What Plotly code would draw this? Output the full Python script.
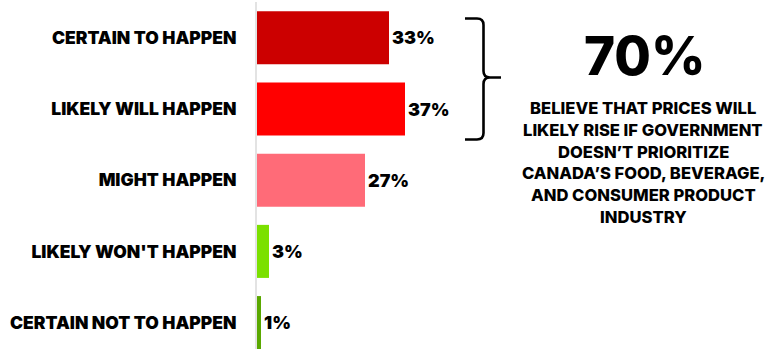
import plotly.graph_objects as go

# Survey responses: likelihood that prices rise
categories = [
    "CERTAIN TO HAPPEN",
    "LIKELY WILL HAPPEN",
    "MIGHT HAPPEN",
    "LIKELY WON'T HAPPEN",
    "CERTAIN NOT TO HAPPEN",
]
values = [33, 37, 27, 3, 1]
value_labels = ["33%", "37%", "27%", "3%", "1%"]
bar_colors = ["#CC0000", "#FF0000", "#FF6B78", "#7BE000", "#5AA800"]

headline = "70%"
headline_text = [
    "BELIEVE THAT PRICES WILL",
    "LIKELY RISE IF GOVERNMENT",
    "DOESN\u2019T PRIORITIZE",
    "CANADA\u2019S FOOD, BEVERAGE,",
    "AND CONSUMER PRODUCT",
    "INDUSTRY",
]

W, H = 775, 349
ML, MR, MT, MB = 257, 0, 2, 0
FONT = "Inter"


def px(x, y):
    """Convert page pixel position to paper coordinates."""
    return (x - ML) / (W - ML - MR), 1 - (y - MT) / (H - MT - MB)


fig = go.Figure(
    go.Bar(
        x=values,
        y=categories,
        orientation="h",
        marker=dict(color=bar_colors, line=dict(width=0)),
        text=value_labels,
        textposition="outside",
        textfont=dict(family=FONT, size=18, color="#000000", weight=900),
        cliponaxis=False,
        width=0.745,
    )
)

# Curly brace grouping the two "happen" answers
pts = [
    ("M", 465, 18.5), ("L", 477, 18.5), ("Q", 483.5, 18.5, 483.5, 25),
    ("L", 483.5, 71), ("Q", 483.5, 77.5, 490, 77.5), ("L", 501, 77.5),
    ("M", 490, 77.5), ("Q", 483.5, 77.5, 483.5, 84),
    ("L", 483.5, 133), ("Q", 483.5, 139.5, 477, 139.5), ("L", 465, 139.5),
]
path = ""
for p in pts:
    cmd, coords = p[0], p[1:]
    parts = []
    for i in range(0, len(coords), 2):
        a, b = px(coords[i], coords[i + 1])
        parts.append(f"{a:.5f},{b:.5f}")
    path += cmd + " " + " ".join(parts) + " "

fig.add_shape(
    type="path", path=path.strip(), xref="paper", yref="paper",
    line=dict(color="#000000", width=2.6),
)

hx, hy = px(644.5, 56)
fig.add_annotation(
    x=hx, y=hy, xref="paper", yref="paper", text=headline, showarrow=False,
    xanchor="center", yanchor="middle",
    font=dict(family=FONT, size=53, color="#000000", weight=800),
)
# Statement lines, one annotation per line for the wider leading
for i, line in enumerate(headline_text):
    lx, ly = px(643, 108.3 + i * 21.67)
    fig.add_annotation(
        x=lx, y=ly, xref="paper", yref="paper", text=line,
        showarrow=False, xanchor="center", yanchor="middle",
        font=dict(family=FONT, size=16.6, color="#000000", weight=800),
    )

fig.update_layout(
    width=W, height=H,
    margin=dict(l=ML, r=MR, t=MT, b=MB, pad=0),
    paper_bgcolor="#FFFFFF", plot_bgcolor="#FFFFFF",
    showlegend=False,
    xaxis=dict(range=[0, (W - ML - MR) / 4.0], visible=False, fixedrange=True),
    yaxis=dict(
        range=[4.371, -0.503],
        showgrid=False, zeroline=False,
        showline=True, linecolor="#E3E3E3", linewidth=2,
        ticks="", ticklabelstandoff=15,
        tickfont=dict(family=FONT, size=17.5, color="#000000", weight=900),
        fixedrange=True,
    ),
)

fig.write_html("out.html")
